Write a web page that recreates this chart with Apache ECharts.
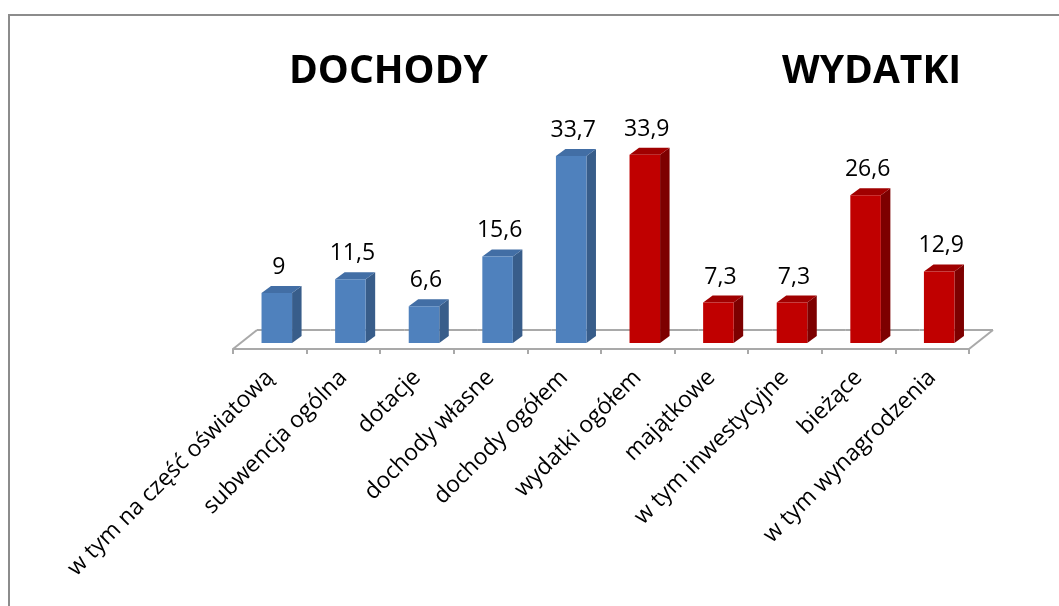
<!DOCTYPE html>
<html>
<head>
<meta charset="utf-8">
<script src="https://cdn.jsdelivr.net/npm/echarts@6/dist/echarts.min.js"></script>
<style>
  html, body { margin: 0; padding: 0; background: #fff; }
  #main { width: 1059px; height: 606px; }
</style>
</head>
<body>
<div id="main"></div>
<script>
var categories = [
  'w tym na część oświatową', 'subwencja ogólna', 'dotacje', 'dochody własne', 'dochody ogółem',
  'wydatki ogółem', 'majątkowe', 'w tym inwestycyjne', 'bieżące', 'w tym wynagrodzenia'
];
var dochodyValues = [9, 11.5, 6.6, 15.6, 33.7];
var wydatkiValues = [33.9, 7.3, 7.3, 26.6, 12.9];

var chartDom = document.getElementById('main');
var myChart = echarts.init(chartDom);
var option;

// colours of the 3d bar faces: front, side, top
var blueFaces = ['#4f81bd', '#385d8a', '#426ea5'];
var redFaces = ['#c00000', '#7d0000', '#a00000'];

function makeRender(faces) {
  return function (params, api) {
    var idx = api.value(0);
    var val = api.value(1);
    var base = api.coord([idx, 0]);
    var top = api.coord([idx, val]);
    var w = api.size([1, 0])[0];
    var bw = w * 0.415;
    // bar sits in the middle of the floor depth
    var ox = 7, oy = -6;
    // side depth of the bar
    var sx = 9.5, sy = -7;
    // full floor depth
    var fx = 24, fy = -19;
    var x0 = base[0] + ox - bw / 2;
    var x1 = x0 + bw;
    var yb = base[1] + oy;
    var yt = top[1] + oy;
    var lineStyle = { stroke: '#a9a9a9', lineWidth: 2 };
    var children = [];
    // back edge of the floor
    children.push({
      type: 'line',
      shape: { x1: base[0] - w / 2 + fx, y1: base[1] + fy, x2: base[0] + w / 2 + fx, y2: base[1] + fy },
      style: lineStyle
    });
    if (idx === 0) {
      children.push({
        type: 'line',
        shape: { x1: base[0] - w / 2, y1: base[1], x2: base[0] - w / 2 + fx, y2: base[1] + fy },
        style: lineStyle
      });
    }
    if (idx === categories.length - 1) {
      children.push({
        type: 'line',
        shape: { x1: base[0] + w / 2, y1: base[1], x2: base[0] + w / 2 + fx, y2: base[1] + fy },
        style: lineStyle
      });
    }
    // side face
    children.push({
      type: 'polygon',
      shape: { points: [[x1, yt], [x1 + sx, yt + sy], [x1 + sx, yb + sy], [x1, yb]] },
      style: { fill: faces[1] }
    });
    // top face
    children.push({
      type: 'polygon',
      shape: { points: [[x0, yt], [x0 + sx, yt + sy], [x1 + sx, yt + sy], [x1, yt]] },
      style: { fill: faces[2] }
    });
    // front face
    children.push({
      type: 'rect',
      shape: { x: x0, y: yt, width: bw, height: yb - yt },
      style: { fill: faces[0] }
    });
    // value label
    children.push({
      type: 'text',
      style: {
        text: String(val).replace('.', ','),
        x: (x0 + x1) / 2 + 2,
        y: yt + sy - 7,
        align: 'center',
        verticalAlign: 'bottom',
        fill: '#000',
        font: '23px "Open Sans"'
      }
    });
    return { type: 'group', children: children };
  };
}

var dochodyData = dochodyValues.map(function (v, i) { return [i, v]; });
var wydatkiData = wydatkiValues.map(function (v, i) { return [i + dochodyValues.length, v]; });

option = {
  backgroundColor: '#fff',
  animation: false,
  title: [
    {
      text: 'DOCHODY',
      left: 284,
      top: 47,
      textStyle: { fontFamily: 'Open Sans', fontWeight: 'bold', fontSize: 39, color: '#000' }
    },
    {
      text: 'WYDATKI',
      left: 777,
      top: 47,
      textStyle: { fontFamily: 'Open Sans', fontWeight: 'bold', fontSize: 39, color: '#000' }
    }
  ],
  grid: {
    left: 233,
    right: 90,
    top: 127,
    bottom: 257
  },
  xAxis: {
    type: 'category',
    data: categories,
    boundaryGap: true,
    axisLine: { lineStyle: { color: '#a9a9a9', width: 2 } },
    axisTick: { show: true, length: 5, lineStyle: { color: '#a9a9a9', width: 2 } },
    axisLabel: {
      interval: 0,
      rotate: 45,
      margin: 25,
      fontFamily: 'Open Sans',
      fontSize: 23,
      color: '#000'
    }
  },
  yAxis: {
    type: 'value',
    min: 0,
    max: 40,
    show: false,
    splitLine: { show: false }
  },
  graphic: [
    {
      type: 'polyline',
      shape: { points: [[9, 606], [9, 15], [1059, 15]] },
      style: { stroke: '#8c8c8c', lineWidth: 2, fill: null },
      silent: true
    }
  ],
  series: [
    {
      type: 'custom',
      name: 'dochody',
      renderItem: makeRender(blueFaces),
      data: dochodyData
    },
    {
      type: 'custom',
      name: 'wydatki',
      renderItem: makeRender(redFaces),
      data: wydatkiData
    }
  ]
};

option && myChart.setOption(option);
</script>
</body>
</html>
